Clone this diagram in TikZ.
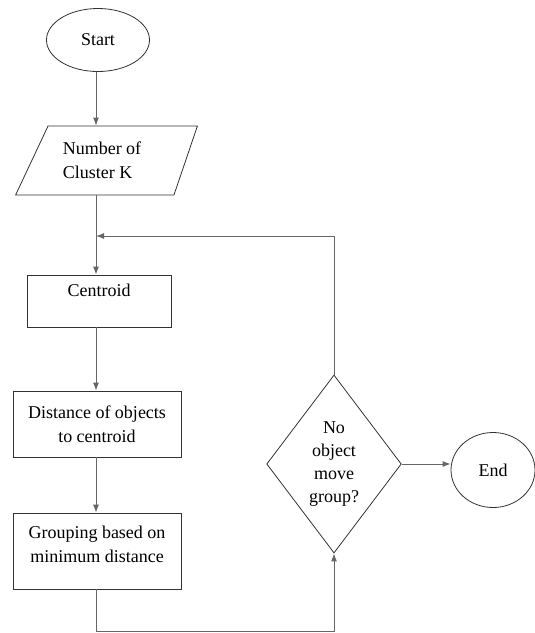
\documentclass[tikz,border=0pt]{standalone}
\usepackage{fontspec}
\setmainfont{Liberation Serif}
\usepackage{tikz}
\usetikzlibrary{shapes.geometric,arrows.meta}
\tikzstyle{termnode}=[ellipse,draw=black!80,line width=0.8pt,
                      inner sep=0pt,font=\fontsize{18}{24}\selectfont]
\tikzstyle{inputnode}=[trapezium,draw=black!80,line width=0.8pt,
                      trapezium left angle=56,trapezium right angle=116,
                      trapezium stretches=true,inner sep=0pt,align=left,
                      font=\fontsize{18}{24}\selectfont]
\tikzstyle{procbox}=[rectangle,draw=black!80,line width=0.8pt,
                      inner sep=0pt,align=center,
                      font=\fontsize{18}{24}\selectfont]
\tikzstyle{decnode}=[diamond,draw=black!80,line width=0.8pt,
                      inner sep=0pt,align=center,
                      font=\fontsize{18}{23}\selectfont]
\tikzstyle{arrow}=[draw=black!60,line width=1pt,
                   -{Latex[length=8pt,width=6pt]}]

\begin{document}
\begin{tikzpicture}[x=1pt,y=-1pt]
    \useasboundingbox (0,0) rectangle (535,633);
    % flow on the left
    \node (start) at (98,40) [termnode,minimum width=103,minimum height=63]{Start};
    \node (input) at (111,160.5) [inputnode,minimum width=182,minimum height=69]{Number of\hspace*{18pt}\\Cluster K};
    \node (cen) at (99,301) [procbox,minimum width=144,minimum height=52,text depth=22pt]{Centroid};
    \node (dist) at (97,424) [procbox,minimum width=168,minimum height=66]{Distance of objects\\to centroid};
    \node (group) at (97,551) [procbox,minimum width=168,minimum height=76,text depth=14pt]{Grouping based on\\minimum distance};
    % check and end
    \node (dec) at (334,464) [decnode,minimum width=134,minimum height=178]{No\\object\\move\\group?};
    \node (end) at (493,470) [termnode,minimum width=84,minimum height=75]{End};
    \coordinate (merge) at (96,236);
    \coordinate (low) at (334,631);
    \draw[arrow] (start.south -| merge) -- (merge |- input.north);
    \draw[line width=1pt,draw=black!60] (merge |- input.south) -- (merge);
    \draw[arrow] (merge) -- (merge |- cen.north);
    \draw[arrow] (merge |- cen.south) -- (merge |- dist.north);
    \draw[arrow] (merge |- dist.south) -- (merge |- group.north);
    \draw[arrow] (merge |- group.south) |- (low) -- (dec.south);
    \draw[arrow] (dec.north) |- (merge);
    \draw[arrow] (dec.east) -- (dec.east -| end.west);
  \end{tikzpicture}
\end{document}
